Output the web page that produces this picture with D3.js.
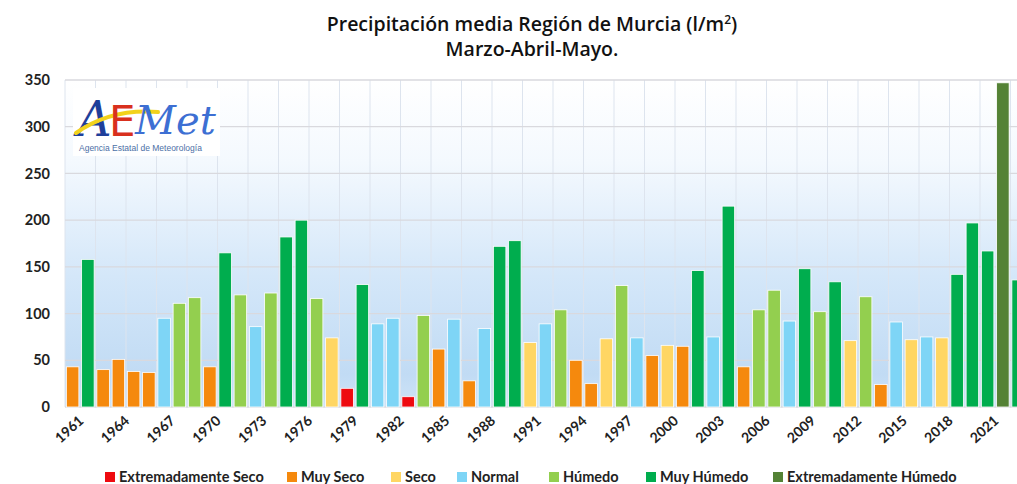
<!DOCTYPE html>
<html>
<head>
<meta charset="utf-8">
<script src="https://cdn.jsdelivr.net/npm/d3@7"></script>
<style>
  body { margin: 0; background: #fff; }
</style>
</head>
<body>
<div id="chart"></div>
<script>
// Precipitación Marzo-Abril-Mayo, Región de Murcia
var years = d3.range(1961, 2024);
var values = [43, 158, 40, 51, 38, 37, 95, 111, 117, 43,
              165, 120, 86, 122, 182, 200, 116, 74, 20, 131,
              89, 95, 11, 98, 62, 94, 28, 84, 172, 178,
              69, 89, 104, 50, 25, 73, 130, 74, 55, 66,
              65, 146, 75, 215, 43, 104, 125, 92, 148, 102,
              134, 71, 118, 24, 91, 72, 75, 74, 142, 197,
              167, 347, 136];
// 0 ext seco, 1 muy seco, 2 seco, 3 normal, 4 humedo, 5 muy humedo, 6 ext humedo
var classes = [1, 5, 1, 1, 1, 1, 3, 4, 4, 1,
               5, 4, 3, 4, 5, 5, 4, 2, 0, 5,
               3, 3, 0, 4, 1, 3, 1, 3, 5, 5,
               2, 3, 4, 1, 1, 2, 4, 3, 1, 2,
               1, 5, 3, 5, 1, 4, 4, 3, 5, 4,
               5, 2, 4, 1, 3, 2, 3, 2, 5, 5,
               5, 6, 5];
var classNames = ["Extremadamente Seco", "Muy Seco", "Seco", "Normal", "Húmedo", "Muy Húmedo", "Extremadamente Húmedo"];
var classColors = ["#ee0a10", "#f5890d", "#ffd663", "#7ed5f6", "#93cf4f", "#00ad4e", "#548235"];
var yTicks = [0, 50, 100, 150, 200, 250, 300, 350];

var W = 1017, H = 484;
var mLeft = 65, mTop = 80, mBottom = 407;
var mRight = mLeft + years.length * 15.25;

var svg = d3.select("#chart").append("svg")
    .attr("width", W).attr("height", H);

var defs = svg.append("defs");
var grad = defs.append("linearGradient").attr("id", "bg")
    .attr("x1", 0).attr("y1", 0).attr("x2", 0).attr("y2", 1);
grad.append("stop").attr("offset", "0%").attr("stop-color", "#ffffff");
grad.append("stop").attr("offset", "25%").attr("stop-color", "#f4f9fe");
grad.append("stop").attr("offset", "60%").attr("stop-color", "#d4e7f9");
grad.append("stop").attr("offset", "90%").attr("stop-color", "#c1dbf4");
grad.append("stop").attr("offset", "100%").attr("stop-color", "#cfe4f7");

var x = d3.scaleBand().domain(years).range([mLeft, mRight]).paddingInner(0.18).paddingOuter(0.09);
var y = d3.scaleLinear().domain([0, 350]).range([mBottom, mTop]);

svg.append("rect")
    .attr("x", mLeft).attr("y", mTop)
    .attr("width", W - mLeft).attr("height", mBottom - mTop)
    .attr("fill", "url(#bg)");

// vertical grid every 2 years
var step = x.step();
svg.append("g").selectAll("line")
    .data(d3.range(0, years.length, 2))
    .enter().append("line")
    .attr("x1", d => mLeft + d * step).attr("x2", d => mLeft + d * step)
    .attr("y1", mTop).attr("y2", mBottom)
    .attr("stroke", "#dde4ee").attr("stroke-width", 1);

// horizontal grid
svg.append("g").selectAll("line")
    .data(yTicks)
    .enter().append("line")
    .attr("x1", mLeft).attr("x2", W)
    .attr("y1", d => y(d)).attr("y2", d => y(d))
    .attr("stroke", "#d9d9de").attr("stroke-width", 1.3);

// y axis labels
var yAxis = d3.axisLeft(y).tickValues(yTicks).tickSize(0).tickPadding(15);
var ya = svg.append("g").attr("transform", "translate(" + mLeft + ",0)").call(yAxis);
ya.select(".domain").remove();
ya.selectAll("text")
    .attr("font-family", "Lato, sans-serif")
    .attr("font-size", 14.5).attr("font-weight", "bold").attr("fill", "#222");

// bars
svg.append("g").selectAll("rect")
    .data(years)
    .enter().append("rect")
    .attr("x", d => x(d))
    .attr("width", x.bandwidth())
    .attr("y", (d, i) => y(values[i]))
    .attr("height", (d, i) => y(0) - y(values[i]))
    .attr("fill", (d, i) => classColors[classes[i]])
    .attr("stroke", "#ffffff").attr("stroke-width", 0.8);

// x axis labels every 3 years
var xa = svg.append("g").attr("transform", "translate(0," + mBottom + ")")
    .call(d3.axisBottom(x).tickValues(years.filter(d => (d - 1961) % 3 === 0)).tickSize(0).tickPadding(0));
xa.select(".domain").remove();
xa.selectAll("text")
    .attr("font-family", "Lato, sans-serif")
    .attr("font-size", 14).attr("font-weight", "bold").attr("fill", "#222")
    .attr("text-anchor", "end")
    .attr("dy", 0)
    .attr("y", 0)
    .attr("transform", "translate(12,15) rotate(-42)");

// title
svg.append("text")
    .attr("x", 532).attr("y", 31)
    .attr("text-anchor", "middle")
    .attr("font-family", "'Open Sans', sans-serif")
    .attr("font-size", 19.5).attr("font-weight", 600).attr("fill", "#111")
    .html('Precipitación media Región de Murcia (l/m<tspan dy="-7" font-size="12">2</tspan><tspan dy="7">)</tspan>');
svg.append("text")
    .attr("x", 532).attr("y", 56)
    .attr("text-anchor", "middle")
    .attr("font-family", "'Open Sans', sans-serif")
    .attr("font-size", 19.5).attr("font-weight", 600).attr("fill", "#111")
    .text("Marzo-Abril-Mayo.");

// legend
var legendX = [105, 287, 391, 457, 549, 646, 773];
var lg = svg.append("g").selectAll("g")
    .data(classNames)
    .enter().append("g")
    .attr("transform", (d, i) => "translate(" + legendX[i] + ",477)");
lg.append("rect")
    .attr("x", 0).attr("y", -5).attr("width", 10).attr("height", 10)
    .attr("fill", (d, i) => classColors[i]);
lg.append("text")
    .attr("x", 14).attr("y", 5)
    .attr("font-family", "Lato, sans-serif")
    .attr("font-size", 14.5).attr("font-weight", "bold").attr("fill", "#222")
    .text(d => d);

// AEMet logo
var logo = svg.append("g").attr("transform", "translate(73,88)");
logo.append("rect").attr("x", 0).attr("y", 0).attr("width", 147).attr("height", 68).attr("fill", "#ffffff");
logo.append("text")
    .attr("x", 4).attr("y", 48)
    .attr("font-family", "'DejaVu Serif', serif").attr("font-style", "italic")
    .attr("font-size", 48).attr("fill", "#1f3f9a").text("A");
logo.append("path")
    .attr("d", "M3,45 C30,26 60,22 85,24")
    .attr("fill", "none").attr("stroke", "#f2d21c").attr("stroke-width", 4)
    .attr("stroke-linecap", "round");
logo.append("text")
    .attr("x", 36).attr("y", 48)
    .attr("font-family", "'DejaVu Sans', sans-serif")
    .attr("font-size", 42).attr("fill", "#d9301e").text("E");
logo.append("text")
    .attr("x", 62).attr("y", 46)
    .attr("font-family", "'DejaVu Serif', serif").attr("font-style", "italic")
    .attr("font-size", 40).attr("fill", "#3d6fd3").text("Met");
logo.append("text")
    .attr("x", 6).attr("y", 63)
    .attr("font-family", "'Liberation Sans', sans-serif")
    .attr("font-size", 8.5).attr("fill", "#4c6fa6")
    .text("Agencia Estatal de Meteorología");
</script>
</body>
</html>
